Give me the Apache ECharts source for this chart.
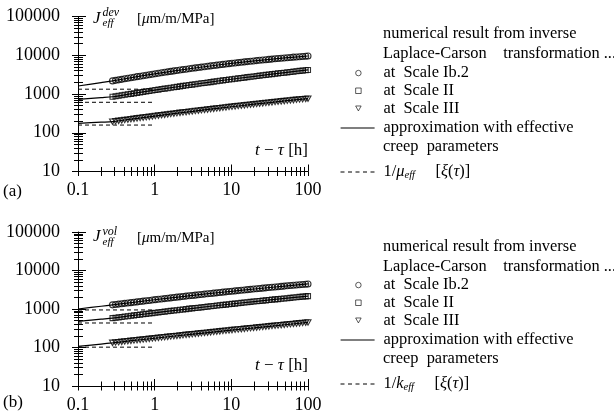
<!DOCTYPE html>
<html><head><meta charset="utf-8">
<script src="https://cdn.jsdelivr.net/npm/echarts@6/dist/echarts.min.js"></script>
<style>html,body{margin:0;padding:0;background:#fff}#c{width:614px;height:419px}</style>
</head><body><div id="c"></div>
<script>
// ---- data ----
const times = [0.282,0.309,0.339,0.372,0.407,0.447,0.490,0.537,0.589,0.646,0.708,0.776,0.851,0.933,1.02,1.12,1.23,1.35,1.48,1.62,1.78,1.95,2.14,2.34,2.57,2.82,3.09,3.39,3.72,4.07,4.47,4.90,5.37,5.89,6.46,7.08,7.76,8.51,9.33,10.2,11.2,12.3,13.5,14.8,16.2,17.8,19.5,21.4,23.4,25.7,28.2,30.9,33.9,37.2,40.7,44.7,49.0,53.7,58.9,64.6,70.8,77.6,85.1,93.3,100];
const devIb2 = [2180,2250,2320,2390,2470,2550,2630,2710,2800,2880,2970,3060,3150,3240,3340,3430,3530,3630,3730,3830,3940,4040,4150,4260,4370,4480,4600,4710,4830,4950,5070,5190,5310,5430,5560,5680,5810,5940,6070,6200,6330,6460,6600,6730,6860,7000,7130,7270,7410,7540,7680,7820,7960,8090,8230,8370,8500,8640,8780,8920,9050,9180,9320,9450,9550];
const devII = [849,875,901,928,955,983,1010,1040,1070,1100,1130,1170,1200,1230,1270,1300,1340,1380,1410,1450,1490,1530,1570,1620,1660,1700,1750,1790,1840,1890,1930,1980,2030,2090,2140,2190,2250,2300,2360,2410,2470,2530,2590,2650,2720,2780,2840,2910,2980,3040,3110,3180,3250,3320,3400,3470,3550,3620,3700,3780,3860,3940,4020,4110,4170];
const devIII = [193,198,203,208,213,218,224,229,235,240,246,252,258,264,271,277,284,290,297,304,311,318,326,333,340,348,356,364,372,380,389,397,406,415,423,432,442,451,461,470,480,490,500,510,521,531,542,553,564,575,586,598,610,622,634,646,658,670,683,696,709,722,735,748,759];
const volIb2 = [1280,1310,1340,1370,1400,1430,1460,1500,1530,1570,1600,1640,1670,1710,1750,1790,1820,1860,1900,1940,1990,2030,2070,2110,2160,2200,2250,2290,2340,2390,2440,2480,2530,2580,2630,2690,2740,2790,2840,2900,2950,3010,3070,3120,3180,3240,3300,3360,3420,3480,3540,3610,3670,3730,3800,3860,3930,4000,4070,4130,4200,4270,4340,4410,4470];
const volII = [579,593,607,622,636,651,666,682,697,714,730,747,764,781,799,817,835,854,873,892,912,932,952,973,994,1020,1040,1060,1080,1100,1130,1150,1180,1200,1230,1250,1280,1300,1330,1360,1380,1410,1440,1470,1500,1530,1560,1590,1620,1650,1680,1710,1750,1780,1810,1850,1880,1910,1950,1990,2020,2060,2100,2130,2160];
const volIII = [132,135,137,140,143,146,149,152,155,158,161,165,168,171,175,178,182,185,189,193,197,200,204,208,213,217,221,225,230,234,239,243,248,253,258,263,268,273,278,283,289,294,300,305,311,317,323,329,335,341,348,354,361,368,374,381,388,395,403,410,418,425,433,441,447];

const fitTimes = [0.1,0.2,0.282,0.5,1,2,5,10,20,50,100];
const devFitIb2 = [1610,1970,2180,2650,3310,4070,5210,6170,7170,8530,9550];
const devFitII = [730,807,849,1020,1260,1540,2000,2400,2860,3570,4170];
const devFitIII = [175,187,193,225,269,320,399,468,545,661,759];
const volFitIb2 = [1000,1180,1280,1470,1740,2040,2500,2880,3310,3950,4470];
const volFitII = [476,543,579,670,794,937,1160,1350,1560,1890,2160];
const volFitIII = [107,123,132,150,174,202,244,282,324,390,447];

const dashTimes = [0.1, 1];
const devDash = [1330, 611, 158];
const volDash = [945, 433, 102];

const xTickLabels = ['0.1','1','10','100'];
const yTickLabels = ['10','100','1000','10000','100000'];
const minorMultipliers = [2,3,4,5,6,7,8,9];
const xDecades = [-1,0,1];
const yDecades = [1,2,3,4];

const nameIb2 = 'at  Scale Ib.2', nameII = 'at  Scale II', nameIII = 'at  Scale III';
const nameFit = 'approximation with effective creep parameters';
const nameDashA = '1/\u03bceff [\u03be(\u03c4)]';
const nameDashB = '1/keff [\u03be(\u03c4)]';

// ---- helpers ----
const F = "'Liberation Serif', 'Times New Roman', serif";
const BLK = '#000';
const DOWN_TRIANGLE = 'path://M0,0L10,0L5,9Z';
function pairs(xs, ys) { return xs.map((x, i) => [x, ys[i]]); }
function minorLogs(decades) {
  const out = [];
  decades.forEach(d => minorMultipliers.forEach(m => out.push(d + Math.log10(m))));
  return out;
}
const xMinor = minorLogs(xDecades);
const xMajorLog = [-1, 0, 1, 2];
const yMinor = minorLogs(yDecades);
const tickLS = { color: BLK, width: 1 };

function xAxes(g) {
  return [
    { type: 'log', logBase: 10, gridIndex: g, min: 0.1, max: 100, position: 'bottom',
      axisLine: { show: true, onZero: false, lineStyle: { color: BLK, width: 1 } },
      axisTick: { show: true, inside: true, length: 7, lineStyle: tickLS },
      axisLabel: { show: true, margin: 10, color: BLK, fontFamily: F, fontSize: 18,
        formatter: v => { const s = String(v); return xTickLabels.includes(s) ? s : ''; } },
      splitLine: { show: false }, minorTick: { show: false } },
    { type: 'value', gridIndex: g, min: -1, max: 2, position: 'bottom',
      axisLine: { show: false, onZero: false },
      axisTick: { show: true, inside: false, length: 4.5, customValues: xMajorLog.concat(xMinor), lineStyle: tickLS },
      axisLabel: { show: false }, splitLine: { show: false } },
    { type: 'value', gridIndex: g, min: -1, max: 2, position: 'bottom',
      axisLine: { show: false, onZero: false },
      axisTick: { show: true, inside: true, length: 4.5, customValues: xMinor, lineStyle: tickLS },
      axisLabel: { show: false }, splitLine: { show: false } }
  ];
}
function yAxes(g) {
  return [
    { type: 'log', logBase: 10, gridIndex: g, min: 10, max: 100000, position: 'left',
      axisLine: { show: true, onZero: false, lineStyle: { color: BLK, width: 1 } },
      axisTick: { show: true, inside: false, length: 6, lineStyle: tickLS },
      axisLabel: { show: true, margin: 18, color: BLK, fontFamily: F, fontSize: 18,
        formatter: v => { const s = String(v); return yTickLabels.includes(s) ? s : ''; } },
      splitLine: { show: false }, minorTick: { show: false } },
    { type: 'log', logBase: 10, gridIndex: g, min: 10, max: 100000, position: 'left',
      axisLine: { show: false, onZero: false },
      axisTick: { show: true, inside: true, length: 8, lineStyle: tickLS },
      axisLabel: { show: false }, splitLine: { show: false } },
    { type: 'value', gridIndex: g, min: 1, max: 5, position: 'left',
      axisLine: { show: false, onZero: false },
      axisTick: { show: true, inside: false, length: 4, customValues: yMinor, lineStyle: tickLS },
      axisLabel: { show: false }, splitLine: { show: false } },
    { type: 'value', gridIndex: g, min: 1, max: 5, position: 'left',
      axisLine: { show: false, onZero: false },
      axisTick: { show: true, inside: true, length: 5, customValues: yMinor, lineStyle: tickLS },
      axisLabel: { show: false }, splitLine: { show: false } }
  ];
}
function scatter(name, symbol, size, ys, g) {
  return { type: 'scatter', name, xAxisIndex: 3 * g, yAxisIndex: 4 * g, data: pairs(times, ys),
    symbol, symbolSize: size, symbolKeepAspect: true, z: 3, silent: true,
    itemStyle: { color: 'rgba(0,0,0,0)', borderColor: BLK, borderWidth: 1.1 } };
}
function fitLine(ys, g) {
  return { type: 'line', name: nameFit, xAxisIndex: 3 * g, yAxisIndex: 4 * g, data: pairs(fitTimes, ys),
    symbol: 'none', smooth: 0.3, z: 2, silent: true,
    lineStyle: { color: BLK, width: 1.2 }, itemStyle: { color: BLK } };
}
function dashLine(name, v, g) {
  return { type: 'line', name, xAxisIndex: 3 * g, yAxisIndex: 4 * g, data: pairs(dashTimes, [v, v]),
    symbol: 'none', z: 2, silent: true,
    lineStyle: { color: BLK, width: 1, type: [4, 3] }, itemStyle: { color: BLK } };
}

const legTS = { fontFamily: F, fontSize: 16.4, color: BLK };
const gapRich = (w) => ({ g: { width: w, height: 1 } });
const dashRich = {
  g: { width: 4, height: 1 },
  n: { fontFamily: F, fontSize: 16.4, color: BLK, lineHeight: 18 },
  i: { fontFamily: F, fontSize: 16.4, fontStyle: 'italic', color: BLK, lineHeight: 18 },
  s: { fontFamily: F, fontSize: 10.5, fontStyle: 'italic', color: BLK, verticalAlign: 'bottom' }
};
function legends(dy, dashName, sym) {
  return [
    { left: 355.25, top: 64.2 + dy, orient: 'vertical', padding: 0, itemGap: 0, itemWidth: 5.5, itemHeight: 5.5,
      symbolKeepAspect: true, selectedMode: false,
      data: [nameIb2, nameII, { name: nameIII, icon: DOWN_TRIANGLE }],
      formatter: n => '{g|}' + n,
      textStyle: Object.assign({ lineHeight: 17.7, rich: gapRich(17.25) }, legTS),
      itemStyle: { color: 'rgba(0,0,0,0)', borderColor: BLK, borderWidth: 0.8 } },
    { left: 340, top: 118.75 + dy, orient: 'vertical', padding: 0, itemWidth: 34, itemHeight: 10,
      selectedMode: false, data: [nameFit],
      formatter: () => '{g|}approximation with effective',
      textStyle: Object.assign({ lineHeight: 18.5, rich: gapRich(4) }, legTS),
      itemStyle: { opacity: 0 }, lineStyle: { color: BLK, width: 1.2 } },
    { left: 340, top: 163 + dy, orient: 'vertical', padding: 0, itemWidth: 34, itemHeight: 10,
      selectedMode: false, data: [dashName],
      formatter: () => '{g|}{n|1/}{i|' + sym + '}{s|eff}{n|     [}{i|\u03be}{n|(}{i|\u03c4}{n|)]}',
      textStyle: Object.assign({ lineHeight: 18, rich: dashRich }, legTS),
      itemStyle: { opacity: 0 }, lineStyle: { color: BLK, width: 1, type: [4, 3.5] } }
  ];
}

function txt(text, x, y, font, align) {
  return { type: 'text', silent: true, style: { text, x, y, font, fill: BLK, textAlign: align || 'left', textVerticalAlign: 'middle' } };
}
function richTxt(text, x, y, rich, align) {
  return { type: 'text', silent: true, style: { text, x, y, rich, fill: BLK, textAlign: align || 'left', textVerticalAlign: 'middle' } };
}
const RI = { fontFamily: F, fontSize: 17, fontStyle: 'italic', fill: BLK };
const RN = { fontFamily: F, fontSize: 17, fill: BLK };
const UI = { fontFamily: F, fontSize: 15, fontStyle: 'italic', fill: BLK };
const UN = { fontFamily: F, fontSize: 15, fill: BLK };
function annotations(dyTitle, dyX, dyLeg, sup, tag) {
  return [
    txt('J', 93, 18.5 + dyTitle, "italic 17px " + F),
    txt(sup, 102.5, 13 + dyTitle, "italic 12px " + F),
    txt('eff', 102.5, 23.5 + dyTitle, "italic 11px " + F),
    richTxt('{n|[}{i|\u03bc}{n|m/m/MPa]}', 137, 19.5 + dyTitle, { n: UN, i: UI }),
    richTxt('{i|t}{n| \u2212 }{i|\u03c4}{n| [h]}', 308, 151 + dyX, { n: RN, i: RI }, 'right'),
    txt(tag, 3, 191.7 + dyX * 0.98, "17px " + F),
    txt('numerical result from inverse', 383, 34 + dyLeg, "16.4px " + F),
    txt('Laplace-Carson    transformation ...', 383, 54 + dyLeg, "16.4px " + F),
    txt('creep  parameters', 383, 146.5 + dyLeg, "16.4px " + F)
  ];
}

const option = {
  animation: false,
  backgroundColor: '#fff',
  grid: [
    { left: 78, top: 16.5, width: 230, height: 155 },
    { left: 78, top: 232, width: 230, height: 154 }
  ],
  xAxis: xAxes(0).concat(xAxes(1)),
  yAxis: yAxes(0).concat(yAxes(1)),
  legend: legends(0, nameDashA, '\u03bc').concat(legends(212, nameDashB, 'k')),
  graphic: annotations(0, 0, 0, 'dev', '(a)').concat(annotations(218.5, 215, 212.5, 'vol', '(b)')),
  series: [
    fitLine(devFitIb2, 0), fitLine(devFitII, 0), fitLine(devFitIII, 0),
    dashLine(nameDashA, devDash[0], 0), dashLine(nameDashA, devDash[1], 0), dashLine(nameDashA, devDash[2], 0),
    scatter(nameIb2, 'circle', 6, devIb2, 0),
    scatter(nameII, 'rect', 5, devII, 0),
    scatter(nameIII, DOWN_TRIANGLE, 6, devIII, 0),
    fitLine(volFitIb2, 1), fitLine(volFitII, 1), fitLine(volFitIII, 1),
    dashLine(nameDashB, volDash[0], 1), dashLine(nameDashB, volDash[1], 1), dashLine(nameDashB, volDash[2], 1),
    scatter(nameIb2, 'circle', 6, volIb2, 1),
    scatter(nameII, 'rect', 5, volII, 1),
    scatter(nameIII, DOWN_TRIANGLE, 6, volIII, 1)
  ]
};
const chart = echarts.init(document.getElementById('c'), null, { renderer: 'canvas' });
chart.setOption(option);
</script>
</body></html>
